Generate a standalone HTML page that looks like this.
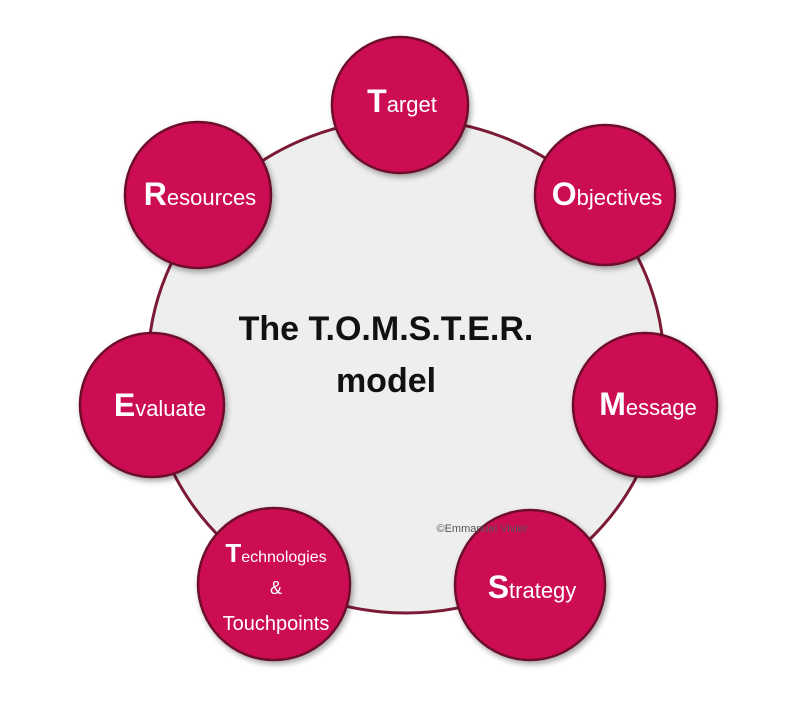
<!DOCTYPE html>
<html><head><style>
body{margin:0;background:#fff;width:800px;height:712px;overflow:hidden}
svg text{font-family:"Liberation Sans",sans-serif}
</style></head><body>
<svg width="800" height="712" viewBox="0 0 800 712">
<defs><filter id="s" x="-20%" y="-20%" width="150%" height="150%"><feDropShadow dx="2" dy="3" stdDeviation="3" flood-color="#000" flood-opacity="0.35"/></filter></defs>
<ellipse cx="406" cy="366" rx="258" ry="247" fill="#eeeeee" stroke="#7a1a35" stroke-width="3"/>
<g fill="#cc1152" stroke="#6e0f2c" stroke-width="2.5" filter="url(#s)">
<circle cx="400" cy="105" r="68"/>
<circle cx="605" cy="195" r="70"/>
<circle cx="645" cy="405" r="72"/>
<circle cx="530" cy="585" r="75"/>
<circle cx="274" cy="584" r="76"/>
<circle cx="152" cy="405" r="72"/>
<circle cx="198" cy="195" r="73"/>
</g>
<g fill="#fff" font-size="22" text-anchor="middle">
<text x="402" y="112"><tspan font-size="32" font-weight="bold">T</tspan>arget</text>
<text x="607" y="205"><tspan font-size="32" font-weight="bold">O</tspan>bjectives</text>
<text x="648" y="415"><tspan font-size="32" font-weight="bold">M</tspan>essage</text>
<text x="532" y="598"><tspan font-size="32" font-weight="bold">S</tspan>trategy</text>
<text x="160" y="416"><tspan font-size="32" font-weight="bold">E</tspan>valuate</text>
<text x="200" y="205"><tspan font-size="32" font-weight="bold">R</tspan>esources</text>
<text x="276" y="562" font-size="16"><tspan font-size="26" font-weight="bold">T</tspan>echnologies</text>
<text x="276" y="594" font-size="18">&amp;</text>
<text x="276" y="630" font-size="20">Touchpoints</text>
</g>
<g fill="#111" font-size="34" font-weight="bold" text-anchor="middle">
<text x="386" y="340">The T.O.M.S.T.E.R.</text>
<text x="386" y="392">model</text>
</g>
<text x="482" y="532" font-size="11" fill="#555" text-anchor="middle">©Emmanuel Vivier</text>
</svg>
</body></html>
